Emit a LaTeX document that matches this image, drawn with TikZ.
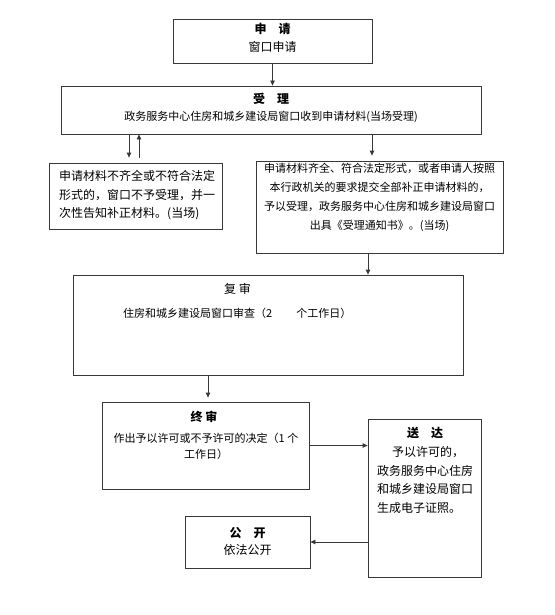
\documentclass[tikz,border=0pt]{standalone}
\usepackage{fontspec}
\newfontfamily\cjk{Noto Sans CJK SC}
\usetikzlibrary{arrows.meta}
\begin{document}
\begin{tikzpicture}[x=1pt,y=-1pt,
  box/.style={draw=black!78, line width=0.8pt, inner sep=0pt},
  ttl/.style={inner sep=0pt, font=\cjk\bfseries\fontsize{12pt}{14pt}\selectfont},
  txt/.style={inner sep=0pt, font=\cjk\fontsize{12pt}{18.5pt}\selectfont},
  stxt/.style={inner sep=0pt, font=\cjk\fontsize{11pt}{19pt}\selectfont},
  arr/.style={draw=black!78, line width=0.8pt, -{Triangle[length=5pt,width=4.5pt]}}]
\useasboundingbox (0,0) rectangle (554,615);
% boxes
\node[box, minimum width=199pt, minimum height=44pt] (sq) at (272.5,41) {};
\node[box, minimum width=420pt, minimum height=48pt] (sl) at (271,110) {};
\node[box, minimum width=173pt, minimum height=66pt] (bad) at (135.5,196) {};
\node[box, minimum width=247pt, minimum height=92pt] (ok) at (379.5,207) {};
\node[box, minimum width=390pt, minimum height=100pt] (fs) at (268,325) {};
\node[box, minimum width=207pt, minimum height=87pt] (zs) at (205.5,445.5) {};
\node[box, minimum width=113pt, minimum height=158pt] (sd) at (424.5,498) {};
\node[box, minimum width=125pt, minimum height=52pt] (gk) at (247.5,542) {};
% texts
\node[ttl] (sqt) at (272.5,29) {申　请};
\node[txt] (sqb) at (272.5,47) {窗口申请};
\node[ttl] (slt) at (271,99) {受　理};
\node[stxt] (slb) at (271,117) {政务服务中心住房和城乡建设局窗口收到申请材料(当场受理)};
\node[txt, align=left, anchor=west] (badt) at (59,195.5) {申请材料不齐全或不符合法定\\形式的，窗口不予受理，并一\\次性告知补正材料。(当场)};
\node[stxt, align=center] (okt) at (379.5,197) {申请材料齐全、符合法定形式，或者申请人按照\\本行政机关的要求提交全部补正申请材料的，\\予以受理，政务服务中心住房和城乡建设局窗口\\出具《受理通知书》。(当场)};
\node[inner sep=0pt, font=\cjk\fontsize{12pt}{14pt}\selectfont] (fst) at (237.5,289) {复 审};
\node[stxt, anchor=west] (fsb) at (123,313) {住房和城乡建设局窗口审查（2\hspace{24pt}个工作日）};
\node[ttl] (zst) at (204,417) {终 审};
\node[stxt, align=center, font=\cjk\fontsize{11pt}{16pt}\selectfont] (zsb) at (206,446) {作出予以许可或不予许可的决定（1 个\\工作日）};
\node[ttl] (sdt) at (425,433) {送　达};
\node[txt, align=left, anchor=west, font=\cjk\fontsize{12pt}{18.7pt}\selectfont] (sdb) at (377,480) {\hspace*{15pt}予以许可的，\\政务服务中心住房\\和城乡建设局窗口\\生成电子证照。};
\node[ttl] (gkt) at (247.5,533) {公　开};
\node[txt] (gkb) at (247.5,550) {依法公开};
% connectors
\draw[arr] (sq.south) -- (sq.south |- sl.north);
\draw[arr, shorten >=5pt] ([xshift=-6.5pt]bad.north |- sl.south) -- ([xshift=-6.5pt]bad.north);
\draw[arr, shorten <=5pt] ([xshift=3.5pt]bad.north) -- ([xshift=3.5pt]bad.north |- sl.south);
\draw[arr, shorten >=5pt] ([xshift=-7.5pt]ok.north |- sl.south) -- ([xshift=-7.5pt]ok.north);
\draw[arr] ([xshift=-11.5pt]ok.south) -- ([xshift=-11.5pt]ok.south |- fs.north);
\draw[arr, shorten >=4pt] ([xshift=-60pt]fs.south) -- ([xshift=-60pt]fs.south |- zs.north);
\draw[arr] (zs.east) -- (zs.east -| sd.west);
\draw[arr] (gk.east -| sd.west) -- (gk.east);
\end{tikzpicture}
\end{document}
